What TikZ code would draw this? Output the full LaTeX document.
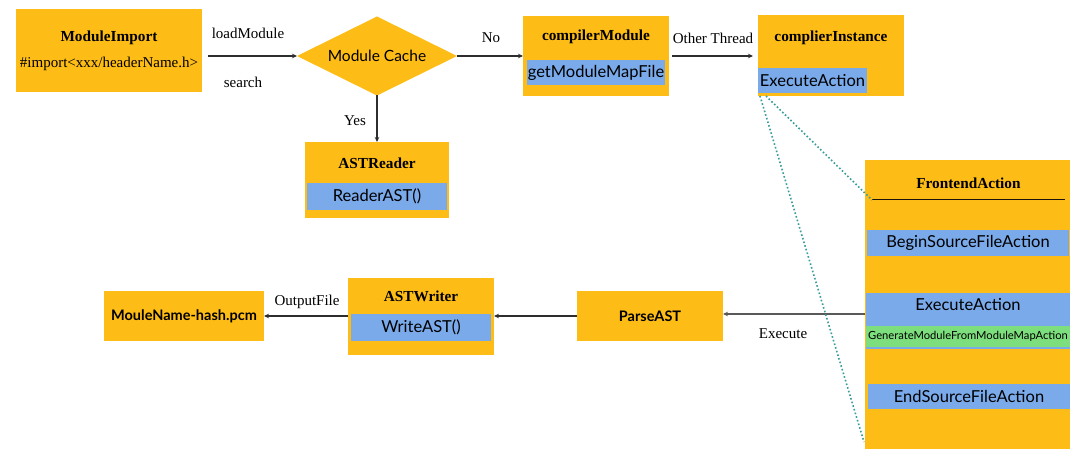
\documentclass[tikz,border=0pt]{standalone}
\usepackage{fontspec}
\setmainfont{Liberation Serif}
\setsansfont{Lato}
\usetikzlibrary{shapes.geometric,arrows.meta}
\definecolor{boxorange}{RGB}{254,188,22}
\definecolor{barblue}{RGB}{122,170,234}
\definecolor{bargreen}{RGB}{124,222,124}
\definecolor{dotteal}{RGB}{56,156,156}
\definecolor{arrgray}{RGB}{45,45,45}
\begin{document}
\begin{tikzpicture}[x=1pt,y=-1pt,
  box/.style={fill=boxorange,draw=none,inner sep=0pt,outer sep=0pt},
  bar/.style={fill=barblue,draw=none,inner sep=0pt,outer sep=0pt},
  gbar/.style={fill=bargreen,draw=none,inner sep=0pt,outer sep=0pt},
  ttl/.style={font=\fontsize{15.3}{15.3}\selectfont\bfseries,inner sep=0pt},
  lbl/.style={font=\fontsize{15}{15}\selectfont,inner sep=0pt},
  stxt/.style={font=\sffamily\fontsize{16.5}{16.5}\selectfont},
  btxt/.style={font=\sffamily\bfseries\fontsize{14.5}{14.5}\selectfont},
  arr/.style={draw=arrgray,line width=1.1pt,-{Stealth[length=5pt,width=4.5pt]}},
  dots/.style={draw=dotteal,line width=1.6pt,dash pattern=on 1.6pt off 2.2pt}]
\useasboundingbox[fill=white] (0,0) rectangle (1080,462);

% ModuleImport
\node[box,minimum width=186pt,minimum height=83pt] (mi) at (109,50.5) {};
\node[ttl] (mit) at (109,38) {ModuleImport};
\node[lbl] (mii) at (109,64) {\#import<xxx/headerName.h>};

% Module Cache diamond
\node[diamond,fill=boxorange,draw=none,aspect=2,inner sep=0pt,outer sep=0pt,
      minimum width=160pt,minimum height=79pt,
      font=\sffamily\fontsize{15.5}{15.5}\selectfont] (mc) at (377,56) {Module Cache};

% compilerModule
\node[box,minimum width=146pt,minimum height=80pt] (cm) at (596,56) {};
\node[ttl] (cmt) at (596,37) {compilerModule};
\node[bar,stxt,minimum width=138pt,minimum height=25pt] (cmb) at (596,72.5) {getModuleMapFile};

% complierInstance
\node[box,minimum width=146pt,minimum height=81pt] (ci) at (831,55.5) {};
\node[ttl] (cit) at (831,38) {complierInstance};
\node[bar,stxt,minimum width=109pt,minimum height=25pt] (cib) at (812.5,80.5) {ExecuteAction};

% ASTReader
\node[box,minimum width=144pt,minimum height=76pt] (ar) at (377,180) {};
\node[ttl] (art) at (377,163) {ASTReader};
\node[bar,stxt,minimum width=140pt,minimum height=27pt] (arb) at (377,196.5) {ReaderAST()};

% FrontendAction
\node[box,minimum width=205pt,minimum height=289pt] (fa) at (967.5,304.5) {};
\node[ttl] (fat) at (968.5,183) {FrontendAction};
\coordinate (fal) at (872,200);
\coordinate (far) at (1065,200);
\draw[line width=1pt,draw=black!85!brown] (fal) -- (far);
\node[bar,stxt,minimum width=202pt,minimum height=26pt] (fab) at (968,243) {BeginSourceFileAction};
\node[bar,minimum width=204pt,minimum height=56pt] (fae) at (968,321) {};
\node[stxt,inner sep=0pt] (faet) at (968,305) {ExecuteAction};
\node[gbar,minimum width=204pt,minimum height=21pt,font=\sffamily\fontsize{11.2}{11.2}\selectfont] (fag) at (968,336.5) {GenerateModuleFromModuleMapAction};
\node[bar,stxt,minimum width=202pt,minimum height=25pt] (fan) at (969,396.5) {EndSourceFileAction};

% ParseAST
\node[box,btxt,minimum width=146pt,minimum height=50pt] (pa) at (650,316) {ParseAST};

% ASTWriter
\node[box,minimum width=146pt,minimum height=77pt] (aw) at (421,316.5) {};
\node[ttl] (awt) at (421,296) {ASTWriter};
\node[bar,stxt,minimum width=140pt,minimum height=27pt] (awb) at (421,327.5) {WriteAST()};

% MouleName-hash.pcm
\node[box,btxt,minimum width=160pt,minimum height=50pt] (mn) at (184,316) {MouleName-hash.pcm};

% connectors
\draw[arr] ([xshift=6pt]mi.east |- mc.west) -- (mc.west);
\draw[arr] (mc.east) -- (cm.west |- mc.east);
\draw[arr] ([xshift=3pt]cm.east) -- ([xshift=-5pt]ci.west |- cm.east);
\draw[arr] (mc.south) -- (ar.north);
\draw[arr,draw=black!65,line width=1.6pt] (fa.west |- 0,314) -- (pa.east |- 0,314);
\draw[arr] (pa.west) -- (aw.east |- pa.west);
\draw[arr] (aw.west |- mn.east) -- (mn.east);

% dotted zoom lines
\draw[dots] ([shift={(8,3)}]cib.south west) -- (fal);
\draw[dots] ([shift={(2,3)}]cib.south west) -- ([shift={(-1,-7)}]fa.south west);

% labels
\node[lbl] (l1) at (248,33) {loadModule};
\node[lbl] (l2) at (243,82) {search};
\node[lbl] (l3) at (491,38) {No};
\node[lbl] (l4) at (713,38) {Other Thread};
\node[lbl] (l5) at (355,121) {Yes};
\node[lbl] (l6) at (783,334) {Execute};
\node[lbl] (l7) at (307,302) {OutputFile};
\end{tikzpicture}
\end{document}
